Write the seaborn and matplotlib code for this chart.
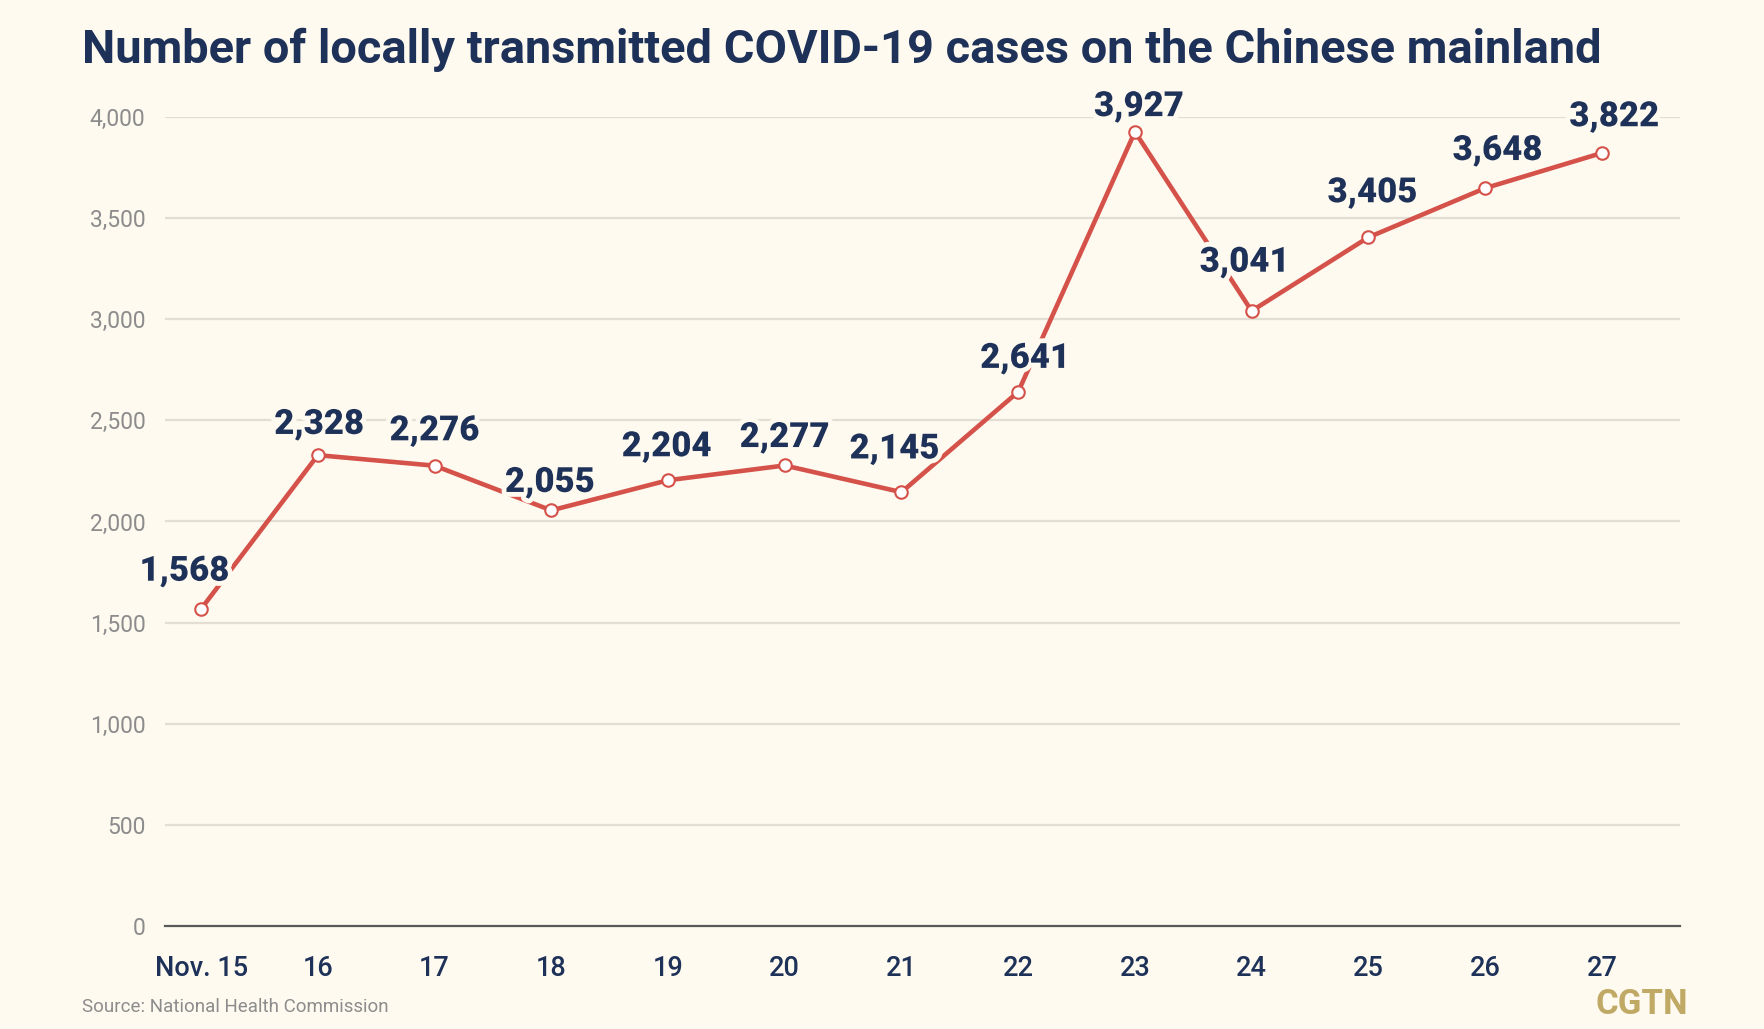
import matplotlib
matplotlib.use("Agg")
import matplotlib.pyplot as plt
import matplotlib.patheffects as pe
import seaborn as sns
import pandas as pd

# ---- data ----
days = ["Nov. 15", "16", "17", "18", "19", "20", "21", "22", "23", "24", "25", "26", "27"]
cases = [1568, 2328, 2276, 2055, 2204, 2277, 2145, 2641, 3927, 3041, 3405, 3648, 3822]
y_ticks = [0, 500, 1000, 1500, 2000, 2500, 3000, 3500, 4000]

title = "Number of locally transmitted COVID-19 cases on the Chinese mainland"
source = "Source: National Health Commission"
brand = "CGTN"

# ---- style ----
BG = "#FEFAF0"
NAVY = "#1E3158"
RED = "#D5524A"
GRID = "#E2DED4"
GRAY = "#8C8C8C"
GOLD = "#BFA965"

sns.set_style("white")
plt.rcParams["font.family"] = ["Roboto", "DejaVu Sans"]

df = pd.DataFrame({"pos": list(range(len(days))), "cases": cases})

fig = plt.figure(figsize=(17.64, 10.29), dpi=100, facecolor=BG)
ax = fig.add_axes([0.0935, 0.1001, 0.8589, 0.7862])
ax.set_facecolor(BG)

sns.lineplot(data=df, x="pos", y="cases", ax=ax, color=RED, linewidth=3.3,
             marker="o", markersize=9, markerfacecolor="white",
             markeredgecolor=RED, markeredgewidth=1.5, zorder=3)

ax.set_xlim(-0.31, 12.67)
ax.set_ylim(0, 4000)
ax.set_yticks(y_ticks)
ax.set_yticklabels([f"{v:,}" for v in y_ticks], color=GRAY, fontsize=16.5)
ax.set_xticks(range(len(days)))
ax.set_xticklabels(days, color=NAVY, fontsize=19.5, fontweight="medium")
ax.tick_params(axis="y", length=0, pad=14)
ax.tick_params(axis="x", length=13, width=1.6, color="#333333", direction="out", pad=8)
ax.set_xlabel("")
ax.set_ylabel("")

for v in y_ticks[1:]:
    ax.axhline(v, color=GRID, linewidth=1.6, zorder=1)

for s in ["top", "right", "left"]:
    ax.spines[s].set_visible(False)
ax.spines["bottom"].set_color("#5A5A5A")
ax.spines["bottom"].set_linewidth(1.6)

# label offsets in points (style only)
offsets = [(-12, 27), (1, 22), (0, 25), (-1, 20), (-1, 24), (0, 20), (-5, 31),
           (5, 24), (3, 18), (-5, 35), (3, 32), (9, 27), (9, 26)]
halo = [pe.withStroke(linewidth=7, foreground=BG)]
for i, (v, off) in enumerate(zip(cases, offsets)):
    ax.annotate(f"{v:,}", (i, v), xytext=off, textcoords="offset points",
                ha="center", va="center", fontsize=25, fontweight="heavy",
                color=NAVY, path_effects=halo, zorder=4, annotation_clip=False)

fig.text(82 / 1764, 1 - 50 / 1029, title, fontsize=33.8, fontweight="bold",
         color=NAVY, ha="left", va="center")
fig.text(82 / 1764, 1 - 1007 / 1029, source, fontsize=13.5, color=GRAY,
         ha="left", va="center")
fig.text(1688 / 1764, 1 - 1004 / 1029, brand, fontsize=25, fontweight="bold",
         color=GOLD, ha="right", va="center")

fig.savefig("out.png", dpi=100, facecolor=BG)
